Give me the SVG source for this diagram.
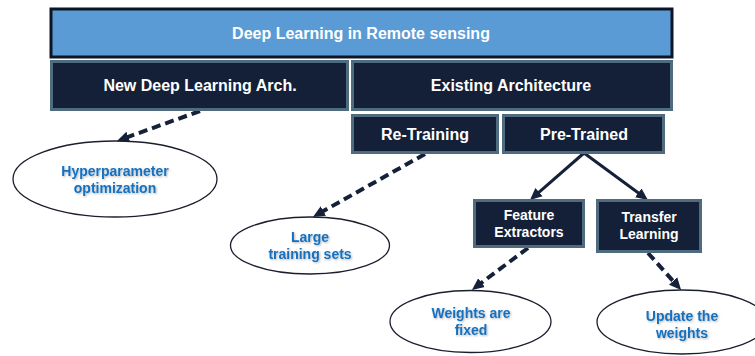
<svg xmlns="http://www.w3.org/2000/svg" width="755" height="356" viewBox="0 0 755 356">
<style>
.box{fill:#141f38;stroke:#4f6b80;stroke-width:3}
.top{fill:#5b9bd5;stroke:#0d1626;stroke-width:3}
.wt{fill:#ffffff;font-family:"Liberation Sans",Arial,sans-serif;font-weight:bold;text-anchor:middle}
.el{fill:#ffffff;stroke:#1a1f2e;stroke-width:1.3}
.bt{fill:#1570c0;font-family:"Liberation Sans",Arial,sans-serif;font-weight:bold;font-size:14px;text-anchor:middle;filter:url(#sh)}
.dash{fill:none;stroke:#152039;stroke-width:4;stroke-dasharray:9,5;marker-end:url(#ah)}
.solid{fill:none;stroke:#152039;stroke-width:3;marker-end:url(#ah)}
</style>
<defs>
<marker id="ah" viewBox="0 0 12 12" markerWidth="12" markerHeight="12" refX="4" refY="6" orient="auto" markerUnits="userSpaceOnUse">
<path d="M0,0.5 L12,6 L0,11.5 z" fill="#152039"/>
</marker>
<filter id="sh" x="-10%" y="-20%" width="120%" height="150%">
<feDropShadow dx="1" dy="1" stdDeviation="0.8" flood-color="#000000" flood-opacity="0.3"/>
</filter>
</defs>
<g id="connectors">
<line class="dash" x1="200" y1="111" x2="124.5" y2="138.2"/>
<line class="dash" x1="425" y1="154" x2="319.9" y2="213"/>
<line class="dash" x1="528" y1="248" x2="478.3" y2="285.1"/>
<line class="dash" x1="648" y1="253" x2="675.8" y2="284"/>
<line class="solid" x1="584" y1="153" x2="536" y2="194.8"/>
<line class="solid" x1="584" y1="153" x2="641.5" y2="195.3"/>
</g>
<g id="n-root">
<rect class="top" x="51" y="9" width="621" height="48"/>
<text class="wt" x="361" y="39" font-size="16">Deep Learning in Remote sensing</text>
</g>
<g id="n-new">
<rect class="box" x="51.5" y="61.5" width="296" height="48"/>
<text class="wt" x="200" y="91" font-size="16">New Deep Learning Arch.</text>
</g>
<g id="n-existing">
<rect class="box" x="352.5" y="61.5" width="319" height="48"/>
<text class="wt" x="511" y="91" font-size="16">Existing Architecture</text>
</g>
<g id="n-retraining">
<rect class="box" x="352.5" y="115.5" width="145" height="37"/>
<text class="wt" x="425" y="140" font-size="16">Re-Training</text>
</g>
<g id="n-pretrained">
<rect class="box" x="503.5" y="115.5" width="160" height="37"/>
<text class="wt" x="584" y="140" font-size="16">Pre-Trained</text>
</g>
<g id="n-feature">
<rect class="box" x="474.5" y="200.5" width="109" height="46"/>
<text class="wt" x="529" y="220" font-size="14">Feature</text>
<text class="wt" x="529" y="237" font-size="14">Extractors</text>
</g>
<g id="n-transfer">
<rect class="box" x="597.5" y="200.5" width="103" height="51"/>
<text class="wt" x="649" y="222" font-size="14">Transfer</text>
<text class="wt" x="649" y="239" font-size="14">Learning</text>
</g>
<g id="n-hyper">
<ellipse class="el" cx="115" cy="179" rx="102" ry="38"/>
<text class="bt" x="115" y="176">Hyperparameter</text>
<text class="bt" x="115" y="193">optimization</text>
</g>
<g id="n-large">
<ellipse class="el" cx="310" cy="245.5" rx="79.5" ry="28.5"/>
<text class="bt" x="310" y="242">Large</text>
<text class="bt" x="310" y="259">training sets</text>
</g>
<g id="n-fixed">
<ellipse class="el" cx="470.5" cy="321.5" rx="80.5" ry="31"/>
<text class="bt" x="471" y="318">Weights are</text>
<text class="bt" x="471" y="335">fixed</text>
</g>
<g id="n-update">
<ellipse class="el" cx="682" cy="322" rx="85" ry="32"/>
<text class="bt" x="682" y="321">Update the</text>
<text class="bt" x="682" y="338">weights</text>
</g>
</svg>
